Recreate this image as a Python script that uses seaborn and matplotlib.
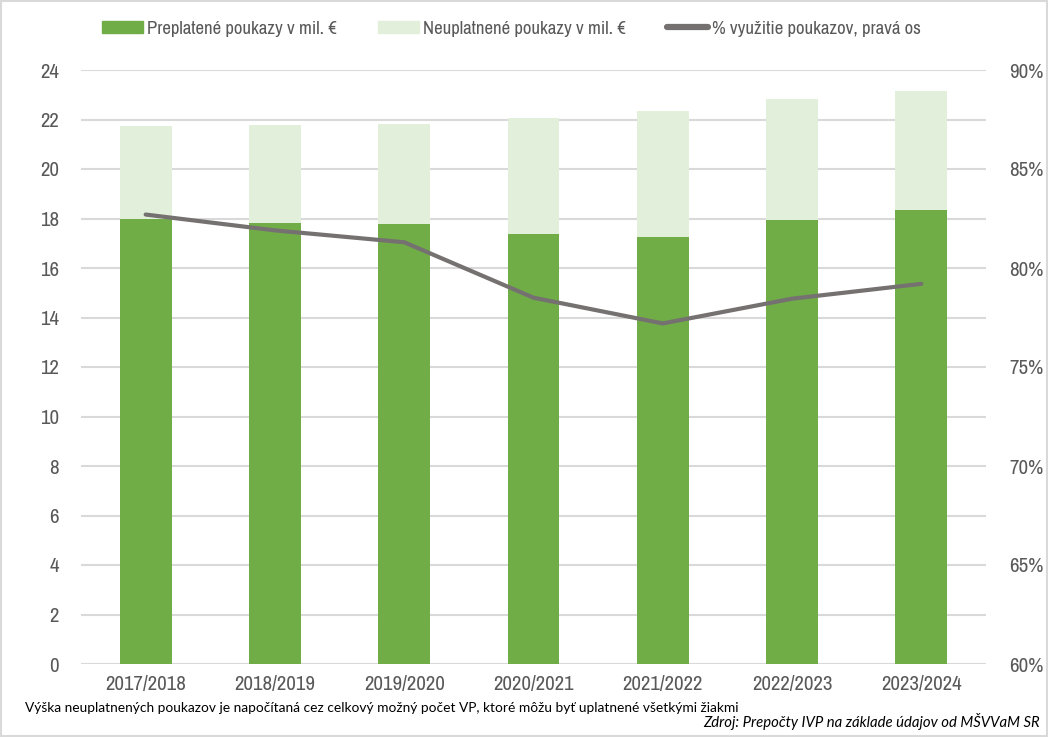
import numpy as np
import pandas as pd
import matplotlib
matplotlib.use("Agg")
import matplotlib.pyplot as plt
import seaborn as sns
from matplotlib import font_manager
from matplotlib.patches import Patch, Rectangle
from matplotlib.lines import Line2D

years = ["2017/2018", "2018/2019", "2019/2020", "2020/2021", "2021/2022", "2022/2023", "2023/2024"]
preplatene = [18.0, 17.83, 17.77, 17.36, 17.25, 17.94, 18.35]
neuplatnene = [3.75, 3.95, 4.05, 4.70, 5.09, 4.89, 4.80]
vyuzitie = [82.7, 81.9, 81.3, 78.5, 77.2, 78.45, 79.2]

left_ticks = list(range(0, 25, 2))
right_ticks = [60, 65, 70, 75, 80, 85, 90]

DARK = "#70AD47"
LIGHT = "#E2EFDA"
LINE = "#767171"
GRID = "#D9D9D9"
TXT = "#595959"

sns.set_theme(style="white")

# look for a narrow font (Arial Narrow look-alike)
narrow = None
for f in font_manager.fontManager.ttflist:
    if "Narrow" in f.name or "Condensed" in f.name:
        narrow = f.name
        break
if narrow:
    main_family = [narrow, "Liberation Sans", "DejaVu Sans"]
    tsize = 15
    lsize = 13.5
else:
    main_family = ["Liberation Sans", "DejaVu Sans"]
    tsize = 12.5
    lsize = 11.5
plt.rcParams["font.family"] = main_family

df = pd.DataFrame({"rok": years, "prep": preplatene, "neup": neuplatnene, "pct": vyuzitie})
df["total"] = df["prep"] + df["neup"]

fig = plt.figure(figsize=(10.48, 7.37), dpi=100)
ax = fig.add_axes([81/1048, 73/737, 905/1048, 594/737])

sns.barplot(data=df, x="rok", y="total", color=LIGHT, width=0.4, ax=ax, saturation=1,
            zorder=2, linewidth=0, edgecolor="none")
sns.barplot(data=df, x="rok", y="prep", color=DARK, width=0.4, ax=ax, saturation=1,
            zorder=3, linewidth=0, edgecolor="none")

ax.set_ylim(0, 24)
ax.set_yticks(left_ticks)
ax.set_xlim(-0.5, len(years) - 0.5)
ax.grid(axis="y", color=GRID, linewidth=1.5, zorder=0)
ax.set_axisbelow(True)
for s in ax.spines.values():
    s.set_visible(False)
ax.set_xlabel("")
ax.set_ylabel("")
ax.tick_params(axis="y", length=0, pad=16, labelsize=tsize, labelcolor=TXT)
ax.tick_params(axis="x", length=0, pad=8, labelsize=tsize, labelcolor=TXT)

ax2 = ax.twinx()
sns.lineplot(x=np.arange(len(years)), y=df["pct"], ax=ax2, color=LINE, linewidth=3, zorder=5)
ax2.set_ylim(60, 90)
ax2.set_yticks(right_ticks)
ax2.set_yticklabels([f"{t}%" for t in right_ticks])
ax2.set_xlim(-0.5, len(years) - 0.5)
for s in ax2.spines.values():
    s.set_visible(False)
ax2.set_ylabel("")
ax2.tick_params(axis="y", length=0, pad=17, labelsize=tsize, labelcolor=TXT)
ax2.grid(False)

handles = [Patch(color=DARK), Patch(color=LIGHT), Line2D([0], [0], color=LINE, linewidth=4.5, solid_capstyle="round")]
labels = ["Preplatené poukazy v mil. €", "Neuplatnené poukazy v mil. €", "% využitie poukazov, pravá os"]
fig.legend(handles, labels, loc="center", bbox_to_anchor=(0.488, 0.961), ncol=3, frameon=False,
           fontsize=lsize, handlelength=2.2, handleheight=0.6, handletextpad=0.2,
           columnspacing=2.2, labelcolor=TXT)

fig.text(25/1048, 1 - 708/737, "Výška neuplatnených poukazov je napočítaná cez celkový možný počet VP, ktoré môžu byť uplatnené všetkými žiakmi",
         fontsize=9.9, color="black", va="center", ha="left", family=["Lato", "DejaVu Sans"])
fig.text(1040/1048, 1 - 722/737, "Zdroj: Prepočty IVP na základe údajov od MŠVVaM SR",
         fontsize=10.7, color="black", va="center", ha="right", style="italic", family=["Lato", "DejaVu Sans"])

fig.patches.append(Rectangle((0.001, 0.001), 0.998, 0.998, transform=fig.transFigure,
                             fill=False, edgecolor=GRID, linewidth=1.5))

fig.savefig("out.png", dpi=100)
